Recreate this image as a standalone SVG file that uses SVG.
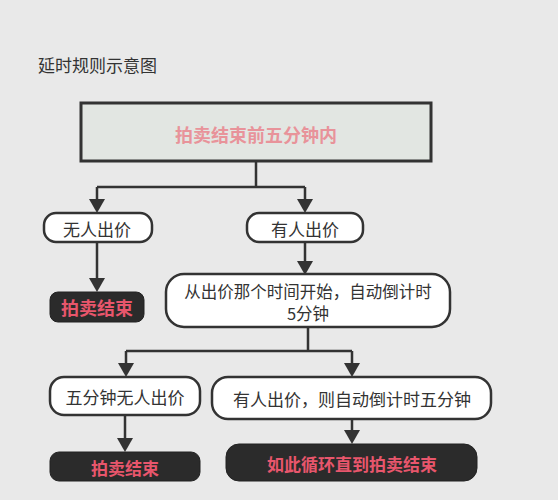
<svg xmlns="http://www.w3.org/2000/svg" width="558" height="500" viewBox="0 0 558 500">
<defs>
<style>
text{font-family:"Noto Sans CJK SC","Liberation Sans",sans-serif;text-anchor:middle;dominant-baseline:central}
.n{fill:#fff;stroke:#333;stroke-width:2.5}
.nt{font-size:17px;fill:#333}
.d{fill:#2b2b2b;stroke:#222;stroke-width:1}
.dt{font-size:17px;font-weight:bold;fill:#e8566c}
.c{fill:none;stroke:#333;stroke-width:2.5}
.a{fill:#333}
</style>
</defs>
<rect width="558" height="500" fill="#e9e9e9"/>
<text x="38" y="64" style="text-anchor:start;font-size:17px;fill:#333">延时规则示意图</text>
<g id="connectors">
<path class="c" d="M256,162 V187 M97,187 H305 M97,187 V200 M305,187 V200"/>
<path class="a" d="M89,199 L105,199 L97,213 Z"/>
<path class="a" d="M297,199 L313,199 L305,213 Z"/>
<path class="c" d="M97,242 V279"/>
<path class="a" d="M89,278 L105,278 L97,292 Z"/>
<path class="c" d="M305,242 V262"/>
<path class="a" d="M297,261 L313,261 L305,275 Z"/>
<path class="c" d="M308,327 V351 M126,351 H352 M126,351 V364 M352,351 V364"/>
<path class="a" d="M118,363 L134,363 L126,377 Z"/>
<path class="a" d="M344,363 L360,363 L352,377 Z"/>
<path class="c" d="M125,415 V439"/>
<path class="a" d="M117,438 L133,438 L125,452 Z"/>
<path class="c" d="M352,419 V431"/>
<path class="a" d="M344,430 L360,430 L352,444 Z"/>
</g>
<g id="top">
<rect x="81" y="103" width="350" height="58" fill="#e2e6e2" stroke="#333" stroke-width="3"/>
<text x="256" y="134" style="font-size:18px;font-weight:bold;fill:#e8939a">拍卖结束前五分钟内</text>
</g>
<g id="noBid">
<rect class="n" x="44" y="213" width="108" height="29" rx="12"/>
<text class="nt" x="97" y="228">无人出价</text>
</g>
<g id="bid">
<rect class="n" x="247" y="213" width="116" height="29" rx="12"/>
<text class="nt" x="305" y="228">有人出价</text>
</g>
<g id="end1">
<rect class="d" x="50" y="292" width="94" height="30" rx="8"/>
<text class="dt" x="97" y="307" style="font-size:18px">拍卖结束</text>
</g>
<g id="countdown">
<rect class="n" x="166" y="274" width="284" height="53" rx="18"/>
<text class="nt" x="308" y="291" style="font-size:16.5px">从出价那个时间开始，自动倒计时</text>
<text class="nt" x="308" y="313" style="font-size:16.5px">5分钟</text>
</g>
<g id="noBid5">
<rect class="n" x="50" y="377" width="150" height="38" rx="14"/>
<text class="nt" x="125" y="396">五分钟无人出价</text>
</g>
<g id="bidAgain">
<rect class="n" x="212" y="377" width="279" height="42" rx="16"/>
<text class="nt" x="352" y="398">有人出价，则自动倒计时五分钟</text>
</g>
<g id="end2">
<rect class="d" x="50" y="452" width="150" height="29" rx="9"/>
<text class="dt" x="125" y="467">拍卖结束</text>
</g>
<g id="loop">
<rect class="d" x="226" y="444" width="251" height="37" rx="13"/>
<text class="dt" x="352" y="463">如此循环直到拍卖结束</text>
</g>
</svg>
